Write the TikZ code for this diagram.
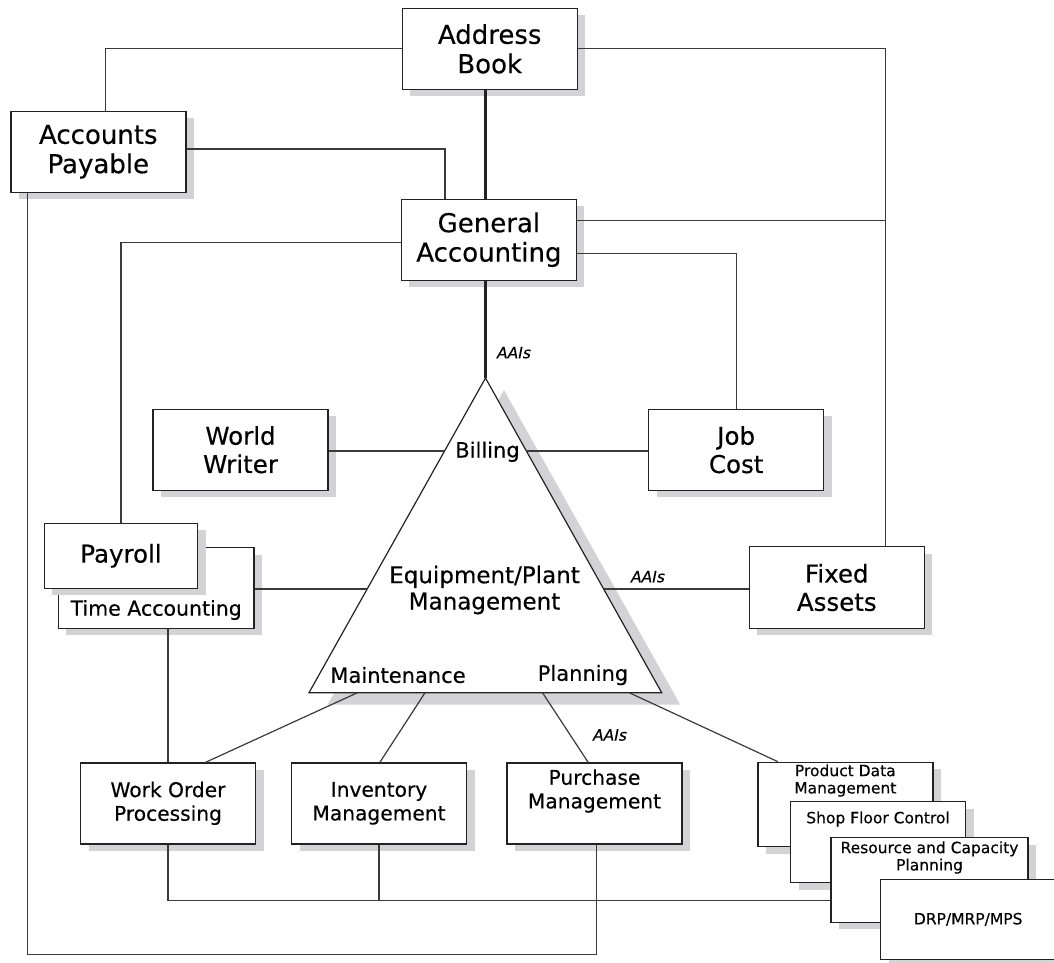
\documentclass[tikz,border=0pt]{standalone}
\usepackage{fontspec}
\setmainfont[FakeBold=0.35]{DejaVu Sans}
\usetikzlibrary{calc,shadows}

\definecolor{shadowgray}{HTML}{D3D3D5}
\definecolor{ink}{HTML}{222222}
\definecolor{wirecol}{HTML}{3A3A3A}

\tikzset{
  box/.style={draw=ink, line width=1.4pt, fill=white, inner sep=0pt, align=center,
    drop shadow={shadow xshift=8pt, shadow yshift=-7pt, fill=shadowgray, opacity=1}},
  bigbox/.style={box, minimum width=175pt, minimum height=81pt,
    font=\fontsize{26}{29.4}\selectfont},
  midbox/.style={box, minimum width=175pt, minimum height=81pt,
    font=\fontsize{24.5}{28.3}\selectfont},
  lowbox/.style={box, minimum width=175pt, minimum height=81pt,
    font=\fontsize{20.2}{23.7}\selectfont},
  lowfont/.style={inner sep=0pt, align=center, font=\fontsize{20.2}{23.7}\selectfont},
  stackbox/.style={box, minimum width=175pt, font=\fontsize{15.5}{17.3}\selectfont},
  stackfont/.style={inner sep=0pt, align=center, font=\fontsize{15.5}{17.3}\selectfont},
  wire/.style={draw=wirecol, line width=1.2pt},
  spine/.style={draw=ink, line width=3.2pt},
  aai/.style={inner sep=0pt, font=\fontsize{15.5}{17}\selectfont\itshape},
  tritext/.style={inner sep=0pt, font=\fontsize{21}{24}\selectfont},
}

\begin{document}
\begin{tikzpicture}[x=1pt, y=-1pt]
\useasboundingbox (0,0) rectangle (1054,962);

% central triangle with its shadow
\coordinate (apex) at (485.5,378);
\coordinate (bl) at (309,692.7);
\coordinate (br) at (661.7,692.7);
\fill[shadowgray] ($(apex)+(18.5,12)$) -- ($(bl)+(18.5,12)$) -- ($(br)+(18.5,12)$) -- cycle;
\draw[fill=white, draw=ink, line width=1.2pt] (apex) -- (bl) -- (br) -- cycle;

% upper modules
\node[bigbox] (ab) at (489.7,48.8) {Address\\Book};
\node[bigbox] (ap) at (98.3,151.7) {Accounts\\Payable};
\node[bigbox] (ga) at (488.9,239.7) {General\\Accounting};
\node[midbox] (ww) at (240.5,449.7) {World\\Writer};
\node[midbox] (jc) at (736.2,449.7) {Job\\Cost};
\node[midbox, minimum height=81.6pt] (fa) at (836.8,587.5) {Fixed\\Assets};

% payroll in front of time accounting
\node[box, minimum width=195.7pt, minimum height=80.6pt] (ta) at (156.2,588) {};
\node[inner sep=0pt, font=\fontsize{20.5}{24}\selectfont] (talbl) at (156.2,610) {Time Accounting};
\node[midbox, minimum width=153.4pt, minimum height=65pt] (pay) at (121,555.8) {Payroll};

% lower modules
\node[lowbox] (wo) at (168,803.3) {Work Order\\Processing};
\node[lowbox] (inv) at (379,803.3) {Inventory\\Management};
\node[lowbox] (pur) at (594.5,803.3) {};
\node[lowfont] (purlbl) at (594.5,791) {Purchase\\Management};

% stacked manufacturing modules
\node[stackbox, minimum height=84.4pt] (pdm) at (845.3,804.5) {};
\node[stackfont] (pdmlbl) at (845.3,780.5) {Product Data\\Management};
\node[stackbox, minimum height=81pt] (sfc) at (878,842.2) {};
\node[stackfont] (sfclbl) at (878,819) {Shop Floor Control};
\node[stackbox, minimum width=197pt, minimum height=84.6pt] (rcp) at (929.5,880) {};
\node[stackfont] (rcplbl) at (929.5,857.5) {Resource and Capacity\\Planning};
\node[stackbox, minimum height=80pt] (drp) at (968.2,919.3) {DRP/MRP/MPS};

% texts inside the triangle
\node[tritext] (bill) at (487.5,451.7) {Billing};
\node[inner sep=0pt, align=center, font=\fontsize{23}{26.3}\selectfont] (epm) at (484.5,590)
  {Equipment/Plant\\Management};
\node[tritext] (mnt) at (398,675) {Maintenance};
\node[tritext] (pln) at (583,675) {Planning};

% points on the triangle sides
\coordinate (tl1) at ($(apex)!0.232!(bl)$);
\coordinate (tr1) at ($(apex)!0.232!(br)$);
\coordinate (tl2) at ($(apex)!0.6705!(bl)$);
\coordinate (tr2) at ($(apex)!0.6705!(br)$);
\coordinate (b1) at ($(bl)!0.1375!(br)$);
\coordinate (b2) at ($(bl)!0.329!(br)$);
\coordinate (b3) at ($(bl)!0.662!(br)$);
\coordinate (b4) at ($(bl)!0.908!(br)$);

% helper points for the orthogonal connectors
\coordinate (fajoin) at ($(fa.north)+(48.7,0)$);
\coordinate (gaup) at ($(ga.east)+(0,-19)$);
\coordinate (galo) at ($(ga.east)+(0,13.6)$);
\coordinate (apdrop) at ($(ap.south)+(-70.6,0)$);
\coordinate (purup) at ($(pur.south)+(2.2,0)$);
\coordinate (loopbot) at (0,954.3);
\coordinate (bus) at ($(rcp.west)+(0,20.7)$);

% connectors
\draw[wire] (ab.west) -| ($(ap.north)+(7,0)$);
\draw[wire] ($(ap.east)+(0,-2.7)$) -| ($(ga.north)+(-43.9,0)$);
\draw[spine] (ab.south -| apex) -- (ga.north -| apex);
\draw[spine] (ga.south -| apex) -- (apex);
\draw[wire] (ab.east) -| (fajoin);
\draw[wire] (gaup) -- (gaup -| fajoin);
\draw[wire] (galo) -| (jc.north);
\draw[wire] ($(ga.west)+(0,2.6)$) -| (pay.north);
\draw[wire] (apdrop) -- (apdrop |- loopbot) -- (purup |- loopbot) -- (purup);

\draw[wire] (ww.east |- tl1) -- (tl1);
\draw[wire] (tr1) -- (jc.west |- tr1);
\draw[wire] (ta.east |- tl2) -- (tl2);
\draw[wire] (tr2) -- (fa.west |- tr2);

\draw[wire] (b1) -- ($(wo.north)+(38,0)$);
\draw[wire] (b2) -- ($(inv.north)+(1,0)$);
\draw[wire] (b3) -- ($(pur.north)+(-6.5,0)$);
\draw[wire] (b4) -- ($(pdm.north)+(-67.6,0)$);

\draw[wire] (ta.south -| wo.north) -- (wo.north);
\draw[wire] (wo.south) |- (bus);
\draw[wire] (inv.south) -- (inv.south |- bus);

% interface labels
\node[aai] (aai1) at (514,352.7) {AAIs};
\node[aai] (aai2) at (648,576.7) {AAIs};
\node[aai] (aai3) at (610,735) {AAIs};
\end{tikzpicture}
\end{document}
